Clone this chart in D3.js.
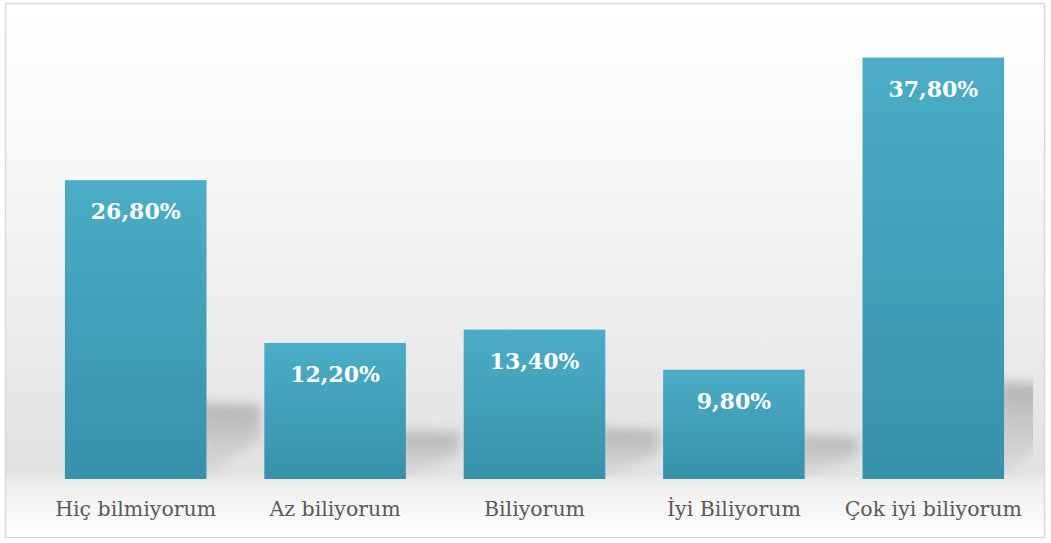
<!DOCTYPE html>
<html>
<head>
<meta charset="utf-8">
<script src="https://cdn.jsdelivr.net/npm/d3@7"></script>
<style>
  body { margin: 0; background: #fff; }
  svg { display: block; }
</style>
</head>
<body>
<div id="chart"></div>
<script>
const CATEGORIES = ["Hiç bilmiyorum", "Az biliyorum", "Biliyorum", "İyi Biliyorum", "Çok iyi biliyorum"];
const VALUES = [26.8, 12.2, 13.4, 9.8, 37.8];

const WIDTH = 1051, HEIGHT = 543;
const PLOT = { left: 36, right: 1033, top: 15, bottom: 479 };

const svg = d3.select("#chart").append("svg")
              .attr("width", WIDTH)
              .attr("height", HEIGHT);

const defs = svg.append("defs");

// one background gradient: white on top, gray at the floor line, white again under the labels
const bgGrad = defs.append("linearGradient").attr("id", "bg")
                   .attr("gradientUnits", "userSpaceOnUse")
                   .attr("x1", 0).attr("y1", 4).attr("x2", 0).attr("y2", 537);
bgGrad.append("stop").attr("offset", 0).attr("stop-color", "#ffffff");
bgGrad.append("stop").attr("offset", 0.2).attr("stop-color", "#fbfbfb");
bgGrad.append("stop").attr("offset", (PLOT.bottom - 4 - 6) / 533).attr("stop-color", "#e2e2e2");
bgGrad.append("stop").attr("offset", (PLOT.bottom - 4 + 4) / 533).attr("stop-color", "#eeeeee");
bgGrad.append("stop").attr("offset", 1).attr("stop-color", "#ffffff");

const barGrad = defs.append("linearGradient").attr("id", "bar").attr("x1", 0).attr("y1", 0).attr("x2", 0).attr("y2", 1);
barGrad.append("stop").attr("offset", "0%").attr("stop-color", "#4badc7");
barGrad.append("stop").attr("offset", "100%").attr("stop-color", "#3891aa");

const shadowGrad = defs.append("linearGradient").attr("id", "shade").attr("x1", 0).attr("y1", 0).attr("x2", 0).attr("y2", 1);
shadowGrad.append("stop").attr("offset", "0%").attr("stop-color", "#9c9c9c").attr("stop-opacity", 0.7);
shadowGrad.append("stop").attr("offset", "100%").attr("stop-color", "#bcbcbc").attr("stop-opacity", 0.25);

defs.append("filter").attr("id", "blur").attr("x", "-50%").attr("y", "-50%").attr("width", "200%").attr("height", "200%")
    .append("feGaussianBlur").attr("stdDeviation", 6);

defs.append("clipPath").attr("id", "plotclip")
    .append("rect")
    .attr("x", PLOT.left).attr("y", PLOT.top)
    .attr("width", PLOT.right - PLOT.left).attr("height", PLOT.bottom - PLOT.top);

// outer frame
svg.append("rect")
   .attr("x", 5.5).attr("y", 3.5)
   .attr("width", 1039).attr("height", 534)
   .attr("fill", "url(#bg)")
   .attr("stroke", "#d9d9d9")
   .attr("stroke-width", 1.5);

const x = d3.scaleBand()
            .domain(CATEGORIES)
            .range([PLOT.left, PLOT.right])
            .paddingInner(0.29)
            .paddingOuter(0.145);

const y = d3.scaleLinear()
            .domain([0, 40])
            .range([PLOT.bottom, 33]);

const data = CATEGORIES.map((name, i) => ({ name, value: VALUES[i] }));

// soft perspective shadows to the right of every bar
const shadows = svg.append("g").attr("clip-path", "url(#plotclip)");
shadows.selectAll("path")
       .data(data)
       .join("path")
       .attr("d", d => {
         const x1 = x(d.name) + x.bandwidth();
         const h = y(0) - y(d.value);
         const top = PLOT.bottom - (25 + 0.17 * h);
         const sh = PLOT.bottom - top;
         return `M${x1 - 6},${top} L${x1 + 54},${top + 2} L${x1 + 54},${top + sh * 0.5} L${x1 - 6},${PLOT.bottom - 2} Z`;
       })
       .attr("fill", "url(#shade)")
       .attr("filter", "url(#blur)");

svg.append("g")
   .selectAll("rect")
   .data(data)
   .join("rect")
   .attr("x", d => x(d.name))
   .attr("y", d => y(d.value))
   .attr("width", x.bandwidth())
   .attr("height", d => y(0) - y(d.value))
   .attr("fill", "url(#bar)");

svg.append("g")
   .selectAll("text")
   .data(data)
   .join("text")
   .attr("x", d => x(d.name) + x.bandwidth() / 2)
   .attr("y", d => y(d.value) + 39)
   .attr("text-anchor", "middle")
   .attr("font-family", "'DejaVu Serif', serif")
   .attr("font-weight", "bold")
   .attr("font-size", 22)
   .attr("fill", "#ffffff")
   .text(d => d3.format(".2f")(d.value).replace(".", ",") + "%");

const xAxis = svg.append("g")
                 .attr("transform", `translate(0,${PLOT.bottom})`)
                 .call(d3.axisBottom(x).tickSize(0).tickPadding(22));
xAxis.select(".domain").remove();
xAxis.selectAll("text")
     .attr("font-family", "'DejaVu Serif', serif")
     .attr("font-size", 20.5)
     .attr("fill", "#595959")
     .attr("dy", "0.72em");
</script>
</body>
</html>
